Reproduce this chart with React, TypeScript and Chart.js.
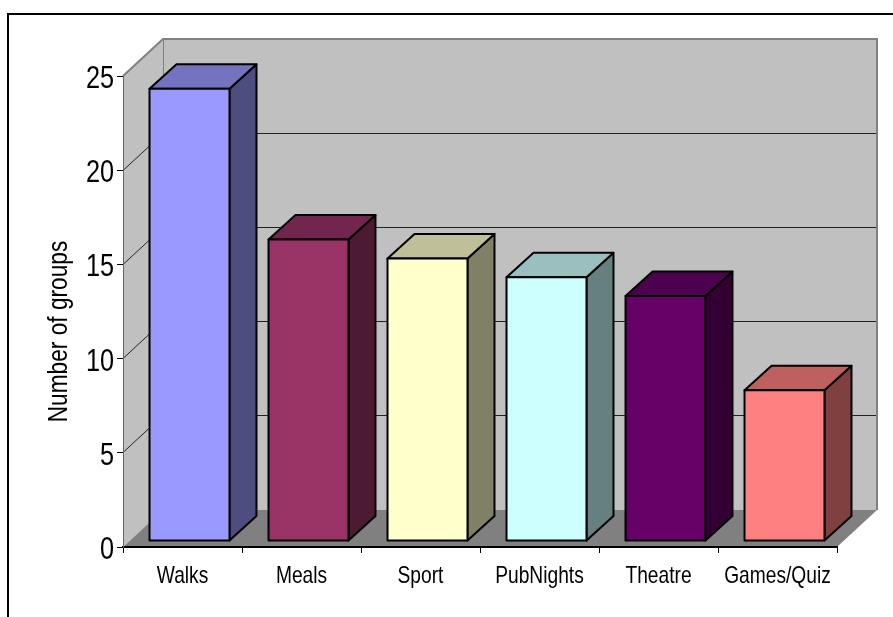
import React, { useEffect, useRef } from "react";
import { Chart, registerables } from "chart.js";

Chart.register(...registerables);

const categories = ["Walks", "Meals", "Sport", "PubNights", "Theatre", "Games/Quiz"];
const groupCounts = [24, 16, 15, 14, 13, 8];
const barColors = ["#9999FF", "#993366", "#FFFFCC", "#CCFFFF", "#660066", "#FF8080"];
const axisTitle = "Number of groups";
const FONT = '"Liberation Sans", Arial, sans-serif';

const WALL_DX = 40;
const WALL_DY = 37;
const BAR_SHIFT_X = 7;
const BAR_SHIFT_Y = 6;
const BAR_DEPTH_X = 27;
const BAR_DEPTH_Y = 24.5;

function shade(hex: string, f: number) {
  const n = parseInt(hex.slice(1), 16);
  const r = Math.round(((n >> 16) & 255) * f);
  const g = Math.round(((n >> 8) & 255) * f);
  const b = Math.round((n & 255) * f);
  return `rgb(${r},${g},${b})`;
}

function poly(ctx: CanvasRenderingContext2D, pts: number[][], fill: string | null, stroke: string | null, lw = 1) {
  ctx.beginPath();
  pts.forEach((p, i) => (i ? ctx.lineTo(p[0], p[1]) : ctx.moveTo(p[0], p[1])));
  ctx.closePath();
  if (fill) {
    ctx.fillStyle = fill;
    ctx.fill();
  }
  if (stroke) {
    ctx.strokeStyle = stroke;
    ctx.lineWidth = lw;
    ctx.lineJoin = "round";
    ctx.stroke();
  }
}

function condensedText(ctx: CanvasRenderingContext2D, text: string, x: number, y: number, font: string, squeeze: number, align: CanvasTextAlign, angle = 0) {
  ctx.save();
  ctx.translate(x, y);
  if (angle) ctx.rotate(angle);
  ctx.scale(squeeze, 1);
  ctx.font = font;
  ctx.fillStyle = "#000";
  ctx.textAlign = align;
  ctx.textBaseline = "alphabetic";
  ctx.fillText(text, 0, 0);
  ctx.restore();
}

const frame3d = {
  id: "frame3d",
  beforeDraw(chart: any) {
    const { ctx, chartArea: a, scales } = chart;
    const y = scales.y;
    ctx.save();
    // outer chart border, running off the page on the right and bottom
    ctx.strokeStyle = "#000";
    ctx.lineWidth = 2;
    ctx.beginPath();
    ctx.moveTo(8, chart.height + 5);
    ctx.lineTo(8, 14);
    ctx.lineTo(chart.width + 5, 14);
    ctx.stroke();

    // back wall
    poly(ctx, [[a.left + WALL_DX, a.top - WALL_DY], [a.right + WALL_DX, a.top - WALL_DY], [a.right + WALL_DX, a.bottom - WALL_DY], [a.left + WALL_DX, a.bottom - WALL_DY]], "#C0C0C0", null);
    // left wall
    poly(ctx, [[a.left, a.top], [a.left + WALL_DX, a.top - WALL_DY], [a.left + WALL_DX, a.bottom - WALL_DY], [a.left, a.bottom]], "#C0C0C0", null);
    // floor
    poly(ctx, [[a.left, a.bottom], [a.left + WALL_DX, a.bottom - WALL_DY], [a.right + WALL_DX, a.bottom - WALL_DY], [a.right, a.bottom]], "#808080", null);

    // grid lines across the walls
    ctx.strokeStyle = "#222";
    ctx.lineWidth = 1;
    y.ticks.forEach((t: any) => {
      if (t.value === y.min || t.value === y.max) return;
      const p = Math.floor(y.getPixelForValue(t.value)) + 0.5;
      ctx.beginPath();
      ctx.moveTo(a.left, p);
      ctx.lineTo(a.left + WALL_DX, p - WALL_DY);
      ctx.lineTo(a.right + WALL_DX, p - WALL_DY);
      ctx.stroke();
    });

    // wall outlines
    ctx.strokeStyle = "#808080";
    ctx.lineWidth = 2;
    ctx.beginPath();
    ctx.moveTo(a.left, a.top);
    ctx.lineTo(a.left + WALL_DX, a.top - WALL_DY);
    ctx.lineTo(a.right + WALL_DX, a.top - WALL_DY);
    ctx.lineTo(a.right + WALL_DX, a.bottom - WALL_DY);
    ctx.stroke();
    ctx.lineWidth = 1;
    ctx.beginPath();
    ctx.moveTo(a.left + WALL_DX + 0.5, a.top - WALL_DY);
    ctx.lineTo(a.left + WALL_DX + 0.5, a.bottom - WALL_DY);
    ctx.stroke();
    ctx.restore();

    // condensed axis text
    condensedText(ctx, axisTitle, 67, 331.5, `28px ${FONT}`, 0.81, "center", -Math.PI / 2);
    y.ticks.forEach((t: any) => {
      condensedText(ctx, String(t.value), 114, y.getPixelForValue(t.value) + 12, `32px ${FONT}`, 0.79, "right");
    });
    categories.forEach((c, i) => {
      condensedText(ctx, c, scales.x.getPixelForTick(i), 583, `24px ${FONT}`, 0.8, "center");
    });
  },
  beforeDatasetDraw(chart: any, args: any) {
    const { ctx } = chart;
    ctx.save();
    ctx.translate(BAR_SHIFT_X, -BAR_SHIFT_Y);
    const meta = chart.getDatasetMeta(args.index);
    meta.data.forEach((el: any, i: number) => {
      const color = barColors[i];
      const l = el.x - el.width / 2;
      const r = el.x + el.width / 2;
      const t = el.y;
      const b = el.base;
      poly(ctx, [[r, t], [r + BAR_DEPTH_X, t - BAR_DEPTH_Y], [r + BAR_DEPTH_X, b - BAR_DEPTH_Y], [r, b]], shade(color, 0.5), "#000", 2);
      poly(ctx, [[l, t], [l + BAR_DEPTH_X, t - BAR_DEPTH_Y], [r + BAR_DEPTH_X, t - BAR_DEPTH_Y], [r, t]], shade(color, 0.75), "#000", 2);
    });
  },
  afterDatasetDraw(chart: any, args: any) {
    const { ctx } = chart;
    const meta = chart.getDatasetMeta(args.index);
    meta.data.forEach((el: any) => {
      const l = el.x - el.width / 2;
      const r = el.x + el.width / 2;
      poly(ctx, [[l, el.y], [r, el.y], [r, el.base], [l, el.base]], null, "#000", 2);
    });
    ctx.restore();
  },
};

export default function App() {
  const ref = useRef<HTMLCanvasElement>(null);
  useEffect(() => {
    const chart = new Chart(ref.current as HTMLCanvasElement, {
      type: "bar",
      data: {
        labels: categories,
        datasets: [
          {
            data: groupCounts,
            backgroundColor: barColors,
            borderWidth: 0,
            barPercentage: 0.672,
            categoryPercentage: 1,
            clip: false,
          } as any,
        ],
      },
      plugins: [frame3d as any],
      options: {
        animation: false,
        responsive: false,
        devicePixelRatio: 1,
        layout: { padding: { left: 0, top: 76, right: 56, bottom: 0 } },
        plugins: { legend: { display: false }, tooltip: { enabled: false }, title: { display: false } },
        scales: {
          x: {
            afterFit: (s: any) => {
              s.height = 70;
            },
            grid: { offset: true, drawOnChartArea: false, drawTicks: true, tickLength: 6, tickColor: "#000", lineWidth: 1 },
            border: { color: "#000", width: 2 },
            ticks: { display: false, maxRotation: 0, autoSkip: false },
          },
          y: {
            min: 0,
            max: 25,
            afterFit: (s: any) => {
              s.width = 123;
            },
            grid: { drawOnChartArea: false, drawTicks: true, tickLength: 6, tickColor: "#000", lineWidth: 1 },
            border: { color: "#666", width: 1 },
            ticks: { display: false, stepSize: 5 },
          },
        },
      } as any,
    });
    return () => chart.destroy();
  }, []);
  return (
    <div style={{ position: "absolute", left: 0, top: 0, width: 893, height: 617, overflow: "hidden", background: "#fff" }}>
      <canvas ref={ref} width={893} height={617} style={{ display: "block" }} />
    </div>
  );
}
